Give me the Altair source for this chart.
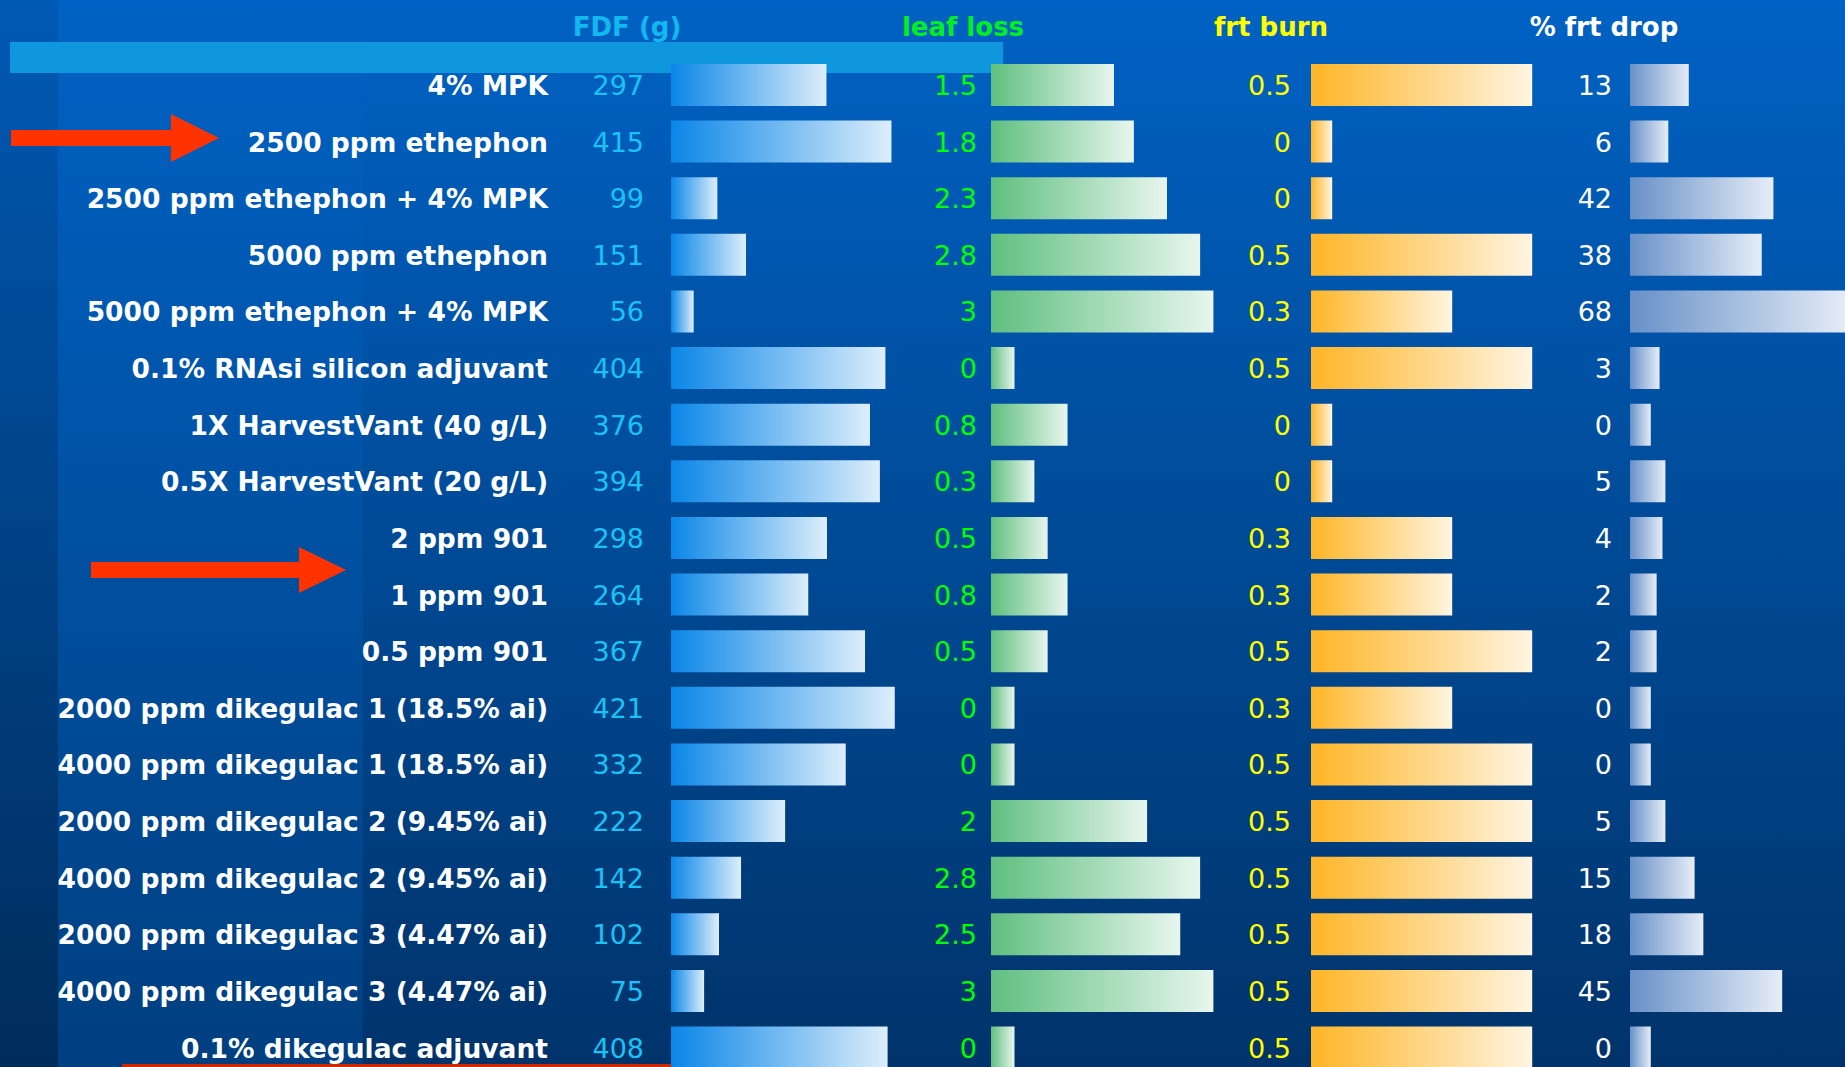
import altair as alt
import pandas as pd

labels = [
    "4% MPK",
    "2500 ppm ethephon",
    "2500 ppm ethephon + 4% MPK",
    "5000 ppm ethephon",
    "5000 ppm ethephon + 4% MPK",
    "0.1% RNAsi silicon adjuvant",
    "1X HarvestVant (40 g/L)",
    "0.5X HarvestVant (20 g/L)",
    "2 ppm 901",
    "1 ppm 901",
    "0.5 ppm 901",
    "2000 ppm dikegulac 1 (18.5% ai)",
    "4000 ppm dikegulac 1 (18.5% ai)",
    "2000 ppm dikegulac 2 (9.45% ai)",
    "4000 ppm dikegulac 2 (9.45% ai)",
    "2000 ppm dikegulac 3 (4.47% ai)",
    "4000 ppm dikegulac 3 (4.47% ai)",
    "0.1% dikegulac adjuvant",
]
fdf = [297, 415, 99, 151, 56, 404, 376, 394, 298, 264, 367, 421, 332, 222, 142, 102, 75, 408]
leaf_loss = [1.5, 1.8, 2.3, 2.8, 3, 0, 0.8, 0.3, 0.5, 0.8, 0.5, 0, 0, 2, 2.8, 2.5, 3, 0]
frt_burn = [0.5, 0, 0, 0.5, 0.3, 0.5, 0, 0, 0.3, 0.3, 0.5, 0.3, 0.5, 0.5, 0.5, 0.5, 0.5, 0.5]
frt_drop = [13, 6, 42, 38, 68, 3, 0, 5, 4, 2, 2, 0, 0, 5, 15, 18, 45, 0]
headers = ["FDF (g)", "leaf loss", "frt burn", "% frt drop"]

W, H = 1845, 1067

df = pd.DataFrame({
    "label": labels,
    "row": list(range(len(labels))),
    "fdf": fdf,
    "leaf": leaf_loss,
    "burn": frt_burn,
    "drop": frt_drop,
})
one = pd.DataFrame({"k": [0]})

yscale = alt.Scale(domain=[0, len(labels) - 1], range=[85, 1047.5], zero=False, nice=False)


def grad(c0, c1, vertical=False):
    return alt.LinearGradient(
        gradient="linear",
        stops=[alt.GradientStop(offset=0, color=c0), alt.GradientStop(offset=1, color=c1)],
        x1=0, x2=0 if vertical else 1, y1=0, y2=1 if vertical else 0,
    )


def bg_rect(x0, x1, y0, y1, fill):
    return alt.Chart(one).mark_rect(color=fill, strokeWidth=0).encode(
        x=alt.value(x0), x2=alt.value(x1), y=alt.value(y0), y2=alt.value(y1)
    )


background = [
    bg_rect(0, W, 0, H, grad("#0062C4", "#00336A", vertical=True)),
    bg_rect(58, 363, 0, H, grad("#0062C4", "#003F80", vertical=True)),
    bg_rect(0, 58, 0, H, grad("#0059B3", "#002C5B", vertical=True)),
    bg_rect(10, 1003, 42, 73, "#0E97DD"),
    bg_rect(122, 671, 1064, 1067, "#D02800"),
]


def bar_layer(field, base_px, zero_px, per_unit, c0, c1):
    scale = alt.Scale(domain=[0, 1], range=[zero_px, zero_px + per_unit], zero=False, nice=False)
    base_val = (base_px - zero_px) / per_unit
    return alt.Chart(df).transform_calculate(
        y0="datum.row - 0.371", y1="datum.row + 0.371"
    ).mark_rect(color=grad(c0, c1), strokeWidth=0).encode(
        x=alt.X(f"{field}:Q", scale=scale, axis=None),
        x2=alt.datum(base_val),
        y=alt.Y("y0:Q", scale=yscale, axis=None),
        y2="y1:Q",
    )


bars = [
    bar_layer("fdf", 671, 662.8, 0.551, "#0A86E8", "#DDEEFB"),
    bar_layer("leaf", 991, 1014.5, 66.3, "#5FBF7F", "#E8F6EE"),
    bar_layer("burn", 1311, 1332.2, 400.0, "#FFB526", "#FFF5E1"),
    bar_layer("drop", 1630, 1650.8, 2.92, "#6890C8", "#E6EDF7"),
]


def num_layer(field, x_right, color):
    return alt.Chart(df).mark_text(
        align="right", baseline="alphabetic", dy=10, font="DejaVu Sans",
        fontSize=27, color=color,
    ).encode(
        x=alt.value(x_right),
        y=alt.Y("row:Q", scale=yscale, axis=None),
        text=alt.Text(f"{field}:Q", format="~g"),
    )


numbers = [
    num_layer("fdf", 644, "#19C3F5"),
    num_layer("leaf", 977, "#00FF00"),
    num_layer("burn", 1291, "#FFFF00"),
    num_layer("drop", 1612, "#FFFFFF"),
]

label_layer = alt.Chart(df).mark_text(
    align="right", baseline="alphabetic", dy=10, font="DejaVu Sans",
    fontWeight="bold", fontSize=26.5, color="#FFFFFF",
).encode(
    x=alt.value(548),
    y=alt.Y("row:Q", scale=yscale, axis=None),
    text="label:N",
)

header_x = [627, 963, 1271, 1604]
header_colors = ["#12B8F0", "#00EE22", "#FFFF00", "#FFFFFF"]
header_layers = [
    alt.Chart(one).mark_text(
        text=t, align="center", baseline="alphabetic", font="DejaVu Sans",
        fontWeight="bold", fontSize=26, color=c,
    ).encode(x=alt.value(hx), y=alt.value(36))
    for t, hx, c in zip(headers, header_x, header_colors)
]

arrow1 = "M-1,-0.077L0.538,-0.077L0.538,-0.231L1,0L0.538,0.231L0.538,0.077L-1,0.077Z"
arrow2 = "M-1,-0.063L0.631,-0.063L0.631,-0.180L1,0L0.631,0.180L0.631,0.063L-1,0.063Z"
arrows = [
    alt.Chart(one).mark_point(
        shape=arrow1, size=208 ** 2, filled=True, color="#FF3300", opacity=1, strokeWidth=0
    ).encode(x=alt.value(115), y=alt.value(138)),
    alt.Chart(one).mark_point(
        shape=arrow2, size=255 ** 2, filled=True, color="#FF3300", opacity=1, strokeWidth=0
    ).encode(x=alt.value(218.5), y=alt.value(570)),
]

chart = alt.layer(
    *background, *bars, *numbers, label_layer, *header_layers, *arrows
).resolve_scale(x="independent").properties(
    width=W, height=H, autosize=alt.AutoSizeParams(type="none"), padding=0,
    background="#003366",
).configure_view(stroke=None)

chart.save("out.html", embed_options={"renderer": "svg", "actions": False})
